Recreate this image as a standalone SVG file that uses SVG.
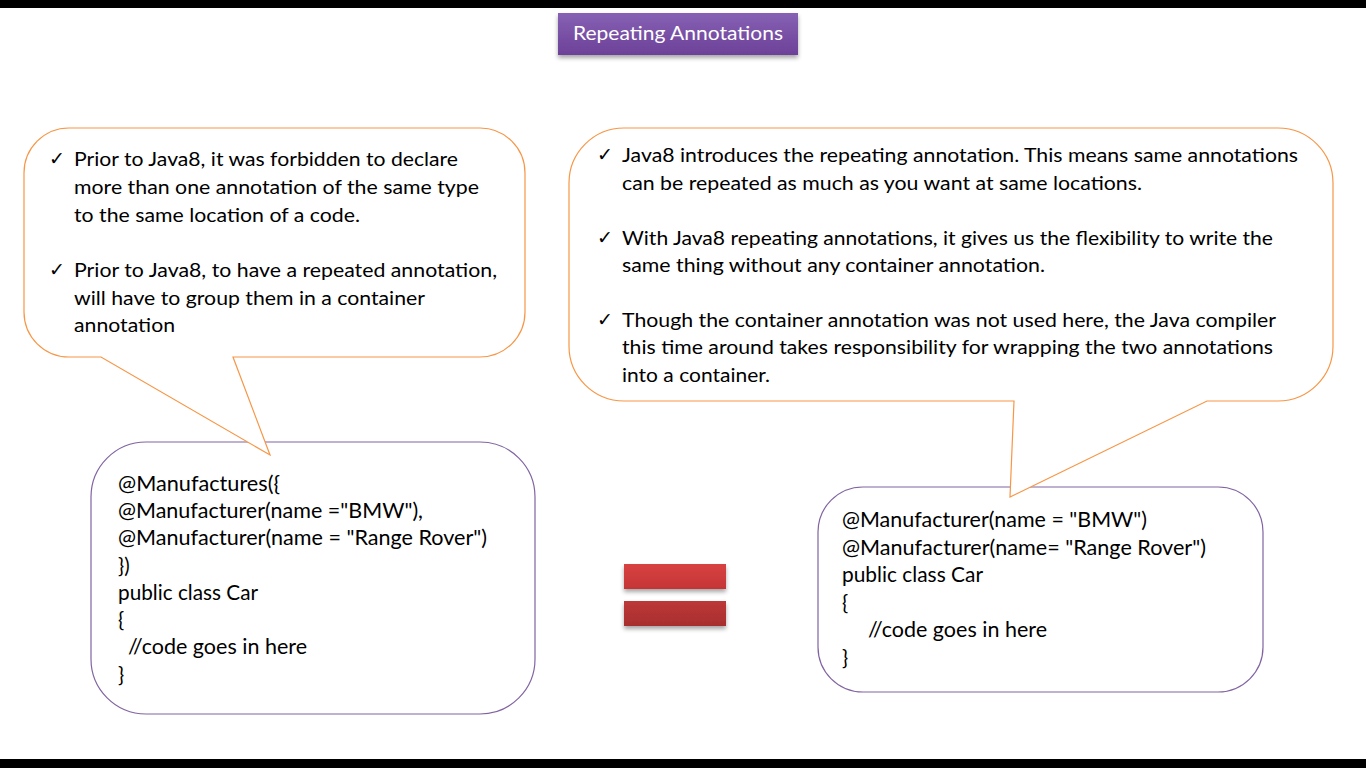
<svg xmlns="http://www.w3.org/2000/svg" width="1366" height="768" viewBox="0 0 1366 768">
  <defs>
    <linearGradient id="gTitle" x1="0" y1="0" x2="0" y2="1">
      <stop offset="0" stop-color="#8661b4"/>
      <stop offset="1" stop-color="#6c4198"/>
    </linearGradient>
    <linearGradient id="gBar1" x1="0" y1="0" x2="0" y2="1">
      <stop offset="0" stop-color="#d84242"/>
      <stop offset="1" stop-color="#c53535"/>
    </linearGradient>
    <linearGradient id="gBar2" x1="0" y1="0" x2="0" y2="1">
      <stop offset="0" stop-color="#bd3838"/>
      <stop offset="1" stop-color="#a82e2e"/>
    </linearGradient>
    <filter id="shadow" x="-10%" y="-20%" width="120%" height="160%">
      <feDropShadow dx="0" dy="3" stdDeviation="2" flood-color="#000" flood-opacity="0.35"/>
    </filter>
  </defs>
  <style>
    .callout { fill: #ffffff; stroke: #f79646; stroke-width: 1.2; }
    .code { fill: #ffffff; stroke: #8064a2; stroke-width: 1.2; }
    .txt { font-family: Lato, "Open Sans", "Liberation Sans", sans-serif; font-size: 19.5px; fill: #000; }
    .codetxt { font-family: Lato, "Open Sans", "Liberation Sans", sans-serif; font-size: 20.5px; fill: #000; }
    .chk { font-family: "DejaVu Sans", sans-serif; font-size: 19px; fill: #000; }
    .title { font-family: Lato, "Open Sans", "Liberation Sans", sans-serif; font-size: 20px; fill: #ffffff; }
  </style>

  <rect x="0" y="0" width="1366" height="768" fill="#ffffff"/>
  <rect x="0" y="0" width="1366" height="8" fill="#000000"/>
  <rect x="0" y="759" width="1366" height="9" fill="#000000"/>

  <g id="title">
    <rect x="558" y="13" width="240" height="42" fill="url(#gTitle)" filter="url(#shadow)"/>
    <text class="title" x="573" y="40" textLength="210" lengthAdjust="spacingAndGlyphs">Repeating Annotations</text>
  </g>

  <g id="code-left">
    <rect class="code" x="91" y="442" width="444" height="272" rx="55" ry="55"/>
    <text class="codetxt" x="118" y="491" textLength="162" lengthAdjust="spacingAndGlyphs">@Manufactures({</text>
    <text class="codetxt" x="118" y="518" textLength="305" lengthAdjust="spacingAndGlyphs">@Manufacturer(name ="BMW"),</text>
    <text class="codetxt" x="118" y="545" textLength="369" lengthAdjust="spacingAndGlyphs">@Manufacturer(name = "Range Rover")</text>
    <text class="codetxt" x="118" y="573">})</text>
    <text class="codetxt" x="118" y="600" textLength="140" lengthAdjust="spacingAndGlyphs">public class Car</text>
    <text class="codetxt" x="118" y="627">{</text>
    <text class="codetxt" x="128" y="654" textLength="179" lengthAdjust="spacingAndGlyphs">//code goes in here</text>
    <text class="codetxt" x="118" y="682">}</text>
  </g>

  <g id="code-right">
    <rect class="code" x="818" y="487" width="445" height="205" rx="45" ry="45"/>
    <text class="codetxt" x="842" y="527" textLength="305" lengthAdjust="spacingAndGlyphs">@Manufacturer(name = "BMW")</text>
    <text class="codetxt" x="842" y="555" textLength="364" lengthAdjust="spacingAndGlyphs">@Manufacturer(name= "Range Rover")</text>
    <text class="codetxt" x="842" y="582" textLength="141" lengthAdjust="spacingAndGlyphs">public class Car</text>
    <text class="codetxt" x="842" y="610">{</text>
    <text class="codetxt" x="868" y="637" textLength="179" lengthAdjust="spacingAndGlyphs">//code goes in here</text>
    <text class="codetxt" x="842" y="665">}</text>
  </g>

  <g id="callout-left">
    <path class="callout" d="M69,128 H480 A45,45 0 0 1 525,173 V312 A45,45 0 0 1 480,357 H233 L270,455 L101,357 H69 A45,45 0 0 1 24,312 V173 A45,45 0 0 1 69,128 Z"/>
    <text class="chk" x="49" y="165">✓</text>
    <text class="txt" x="74" y="166" textLength="384" lengthAdjust="spacingAndGlyphs">Prior to Java8, it was forbidden to declare</text>
    <text class="txt" x="74" y="194" textLength="405" lengthAdjust="spacingAndGlyphs">more than one annotation of the same type</text>
    <text class="txt" x="74" y="222" textLength="286" lengthAdjust="spacingAndGlyphs">to the same location of a code.</text>
    <text class="chk" x="49" y="276">✓</text>
    <text class="txt" x="74" y="277" textLength="423" lengthAdjust="spacingAndGlyphs">Prior to Java8, to have a repeated annotation,</text>
    <text class="txt" x="74" y="305" textLength="351" lengthAdjust="spacingAndGlyphs">will have to group them in a container</text>
    <text class="txt" x="74" y="332" textLength="101" lengthAdjust="spacingAndGlyphs">annotation</text>
  </g>

  <g id="callout-right">
    <path class="callout" d="M624,128 H1278 A55,55 0 0 1 1333,183 V346 A55,55 0 0 1 1278,401 H1207 L1010,497 L1014,401 H624 A55,55 0 0 1 569,346 V183 A55,55 0 0 1 624,128 Z"/>
    <text class="chk" x="597" y="161">✓</text>
    <text class="txt" x="622" y="162" textLength="676" lengthAdjust="spacingAndGlyphs">Java8 introduces the repeating annotation. This means same annotations</text>
    <text class="txt" x="622" y="190" textLength="520" lengthAdjust="spacingAndGlyphs">can be repeated as much as you want at same locations.</text>
    <text class="chk" x="597" y="244">✓</text>
    <text class="txt" x="622" y="245" textLength="651" lengthAdjust="spacingAndGlyphs">With Java8 repeating annotations, it gives us the flexibility to write the</text>
    <text class="txt" x="622" y="272" textLength="423" lengthAdjust="spacingAndGlyphs">same thing without any container annotation.</text>
    <text class="chk" x="597" y="326">✓</text>
    <text class="txt" x="622" y="327" textLength="654" lengthAdjust="spacingAndGlyphs">Though the container annotation was not used here, the Java compiler</text>
    <text class="txt" x="622" y="354" textLength="651" lengthAdjust="spacingAndGlyphs">this time around takes responsibility for wrapping the two annotations</text>
    <text class="txt" x="622" y="382" textLength="148" lengthAdjust="spacingAndGlyphs">into a container.</text>
  </g>

  <g id="equals">
    <rect x="624" y="564" width="102" height="25" fill="url(#gBar1)" filter="url(#shadow)"/>
    <rect x="624" y="601" width="102" height="25" fill="url(#gBar2)" filter="url(#shadow)"/>
  </g>
</svg>
